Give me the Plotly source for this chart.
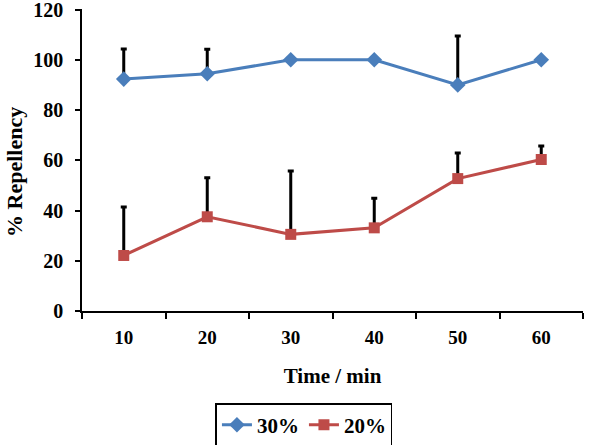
import plotly.graph_objects as go

times = ["10", "20", "30", "40", "50", "60"]
rep30 = [92.3, 94.4, 100, 100, 90.0, 100]
err30 = [12.0, 9.8, 0, 0, 19.5, 0]
rep20 = [22.1, 37.5, 30.5, 33.1, 52.7, 60.3]
err20 = [19.3, 15.5, 25.2, 11.8, 10.2, 5.4]
zeros = [0, 0, 0, 0, 0, 0]
ytick_vals = [0, 20, 40, 60, 80, 100, 120]

font_family = "Liberation Serif, Times New Roman, serif"

fig = go.Figure()
fig.add_trace(go.Scatter(
    x=times, y=rep30, name="30%", mode="lines+markers",
    line=dict(color="#4A7EBB", width=3),
    marker=dict(symbol="diamond", size=12, color="#4A7EBB"),
    error_y=dict(type="data", array=err30, arrayminus=zeros, symmetric=False,
                 color="black", thickness=3, width=3),
))
fig.add_trace(go.Scatter(
    x=times, y=rep20, name="20%", mode="lines+markers",
    line=dict(color="#BE4B48", width=3),
    marker=dict(symbol="square", size=11, color="#BE4B48"),
    error_y=dict(type="data", array=err20, arrayminus=zeros, symmetric=False,
                 color="black", thickness=3, width=3),
))

fig.update_layout(
    width=596, height=445,
    margin=dict(l=82, r=13, t=9, b=134, autoexpand=False),
    plot_bgcolor="white", paper_bgcolor="white",
    font=dict(family=font_family, size=20, color="black"),
    showlegend=True,
    legend=dict(orientation="h", x=0.443, xanchor="center", y=-0.305, yanchor="top",
                bordercolor="black", borderwidth=1.5,
                font=dict(family=font_family, size=21, color="black", weight="bold"),
                itemwidth=30, tracegroupgap=0),
    xaxis=dict(
        type="category", range=[-0.5, 5.5], tickson="boundaries", ticks="outside", ticklen=6,
        tickwidth=1.5, tickcolor="black", automargin=False,
        showline=True, linecolor="black", linewidth=1.5, showgrid=False,
        ticklabelstandoff=8,
        tickfont=dict(family=font_family, size=19, color="black", weight="bold"),
        title=dict(text="Time / min", standoff=22,
                   font=dict(family=font_family, size=21, color="black", weight="bold")),
    ),
    yaxis=dict(
        range=[0, 120.2], tickvals=ytick_vals, ticks="outside", ticklen=5, tickwidth=1.5,
        tickcolor="black", showline=True, linecolor="black", linewidth=1.5,
        showgrid=False, zeroline=False, automargin=False, ticklabelstandoff=8,
        ticklabeloverflow="allow",
        tickfont=dict(family=font_family, size=20, color="black", weight="bold"),
    ),
    annotations=[dict(
        text="% Repellency", textangle=-90, showarrow=False,
        xref="paper", yref="paper", x=-0.136, y=0.46,
        xanchor="center", yanchor="middle",
        font=dict(family=font_family, size=22, color="black", weight="bold"),
    )],
)

fig.write_html("out.html", config={"displayModeBar": False},
               post_script="document.body.style.margin='0';document.body.style.padding='0';")
